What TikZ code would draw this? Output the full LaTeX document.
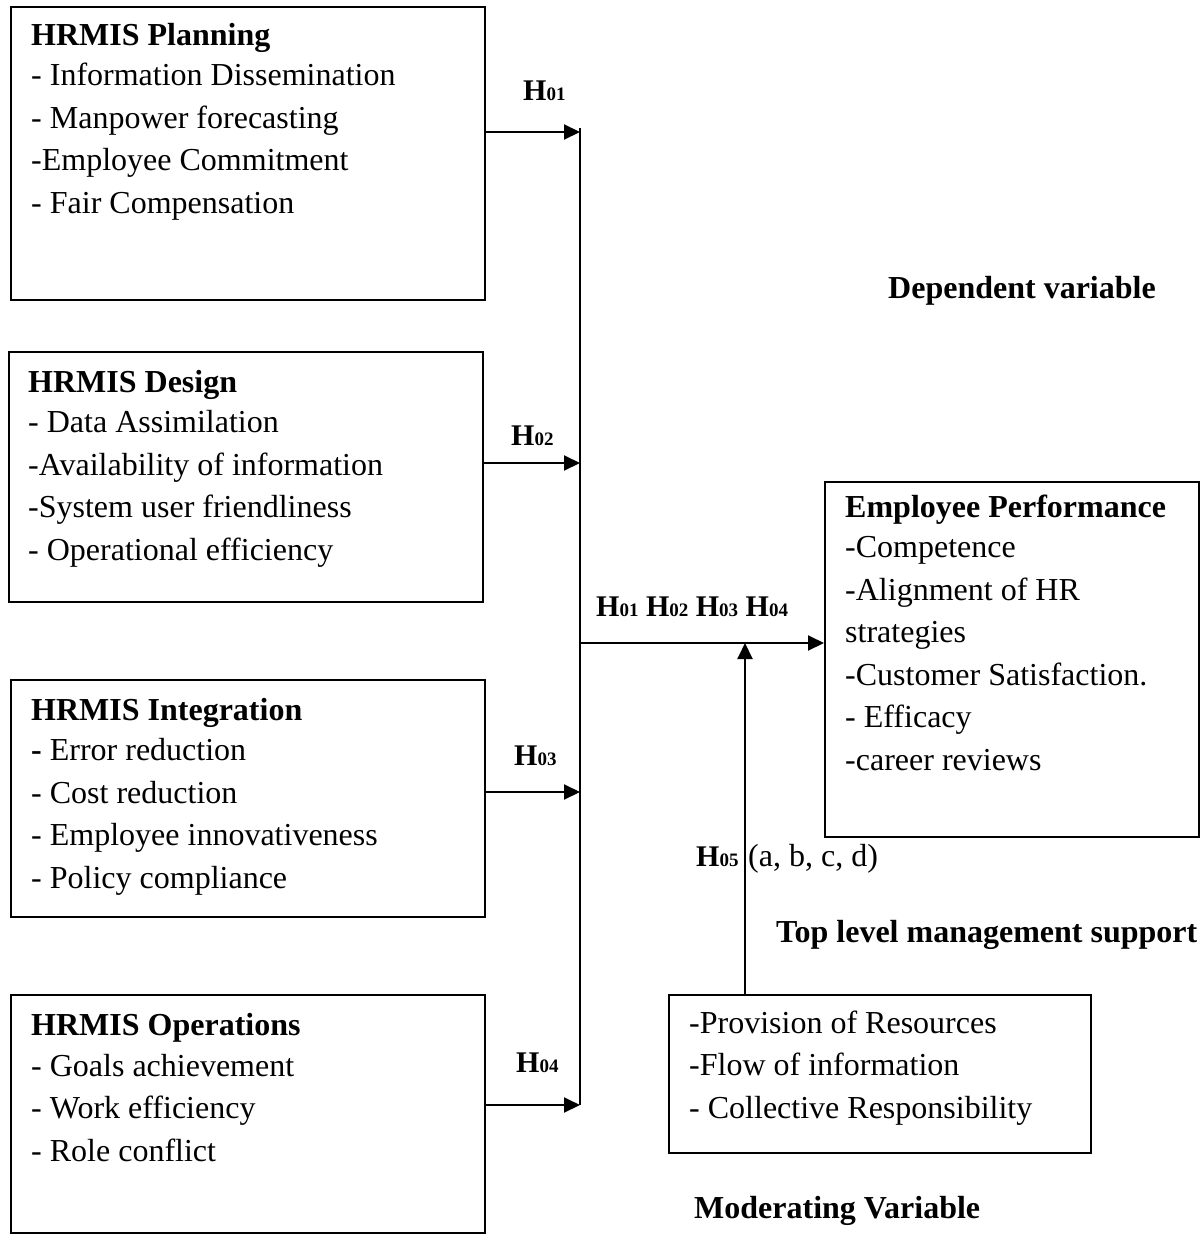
\documentclass[tikz,border=0pt]{standalone}
\usepackage{fontspec}
\setmainfont{Liberation Serif}
\usetikzlibrary{arrows.meta}
\newcommand\hlab[1]{\textbf{H}{\fontsize{19}{19}\selectfont\textbf{#1}}}
\begin{document}
\begin{tikzpicture}[x=1pt,y=-1pt,
 box/.style={draw, line width=1.6pt, inner sep=0pt, anchor=north west},
 txt/.style={anchor=base west, inner sep=0pt, align=left, font=\fontsize{32}{42.5}\selectfont},
 lbl/.style={anchor=base west, inner sep=0pt, font=\fontsize{30}{30}\selectfont},
 btitle/.style={anchor=base west, inner sep=0pt, font=\fontsize{32}{32}\selectfont\bfseries},
 conn/.style={line width=2pt},
 arr/.style={line width=2pt, -{Triangle[length=16pt,width=15pt]}}]
\useasboundingbox (0,0) rectangle (1203,1250);
% boxes
\node[box, minimum width=474pt, minimum height=293pt] (plan) at (10,6) {};
\node[box, minimum width=474pt, minimum height=250pt] (des) at (8,351) {};
\node[box, minimum width=474pt, minimum height=237pt] (integ) at (10,679) {};
\node[box, minimum width=474pt, minimum height=238pt] (oper) at (10,994) {};
\node[box, minimum width=374pt, minimum height=355pt] (ep) at (824,481) {};
\node[box, minimum width=422pt, minimum height=158pt] (mod) at (668,994) {};
% texts (anchored at the baseline of their last line)
\node[txt] (plantxt) at (31,213) {\textbf{HRMIS Planning}\\[-2pt]- Information Dissemination\\- Manpower forecasting\\-Employee Commitment\\- Fair Compensation};
\node[txt] (destxt) at (28,560) {\textbf{HRMIS Design}\\[-2pt]- Data Assimilation\\-Availability of information\\-System user friendliness\\- Operational efficiency};
\node[txt] (integtxt) at (31,888) {\textbf{HRMIS Integration}\\[-2pt]\textbf{-} Error reduction\\- Cost reduction\\- Employee innovativeness\\- Policy compliance};
\node[txt] (opertxt) at (31,1161) {\textbf{HRMIS Operations}\\[-2pt]- Goals achievement\\- Work efficiency\\- Role conflict};
\node[txt] (eptxt) at (845,770) {\textbf{Employee Performance}\\[-2pt]-Competence\\-Alignment of HR\\strategies\\-Customer Satisfaction.\\- Efficacy\\-career reviews};
\node[txt] (modtxt) at (689,1118) {-Provision of Resources\\-Flow of information\\- Collective Responsibility};
% connector points
\coordinate (bustop) at (580,128);
\coordinate (busbot) at (580,1105);
\coordinate (j1) at (580,132);
\coordinate (j2) at (580,463);
\coordinate (j3) at (580,792);
\coordinate (j4) at (580,1105);
\coordinate (jm) at (580,643);
\coordinate (mt) at (745,643);
% connectors
\draw[conn] (bustop) -- (busbot);
\draw[arr] (plan.east |- j1) -- (j1);
\draw[arr] (des.east |- j2) -- (j2);
\draw[arr] (integ.east |- j3) -- (j3);
\draw[arr] (oper.east |- j4) -- (j4);
\draw[arr] (jm) -- (ep.west |- jm);
\draw[arr] (mod.north -| mt) -- (mt);
% labels
\node[lbl] (h1) at (523,100) {\hlab{01}};
\node[lbl] (h2) at (511,445) {\hlab{02}};
\node[lbl] (h3) at (514,765) {\hlab{03}};
\node[lbl] (h4) at (516,1072) {\hlab{04}};
\node[lbl] (hall) at (596,616) {\hlab{01} \hlab{02} \hlab{03} \hlab{04}};
\node[lbl] (h5) at (696,866) {\hlab{05}};
\node[txt] (h5b) at (748,866) {(a, b, c, d)};
\node[btitle] (dep) at (888,298) {Dependent variable};
\node[btitle] (top) at (776,942) {Top level management support};
\node[btitle] (modv) at (694,1218) {Moderating Variable};
\end{tikzpicture}
\end{document}
